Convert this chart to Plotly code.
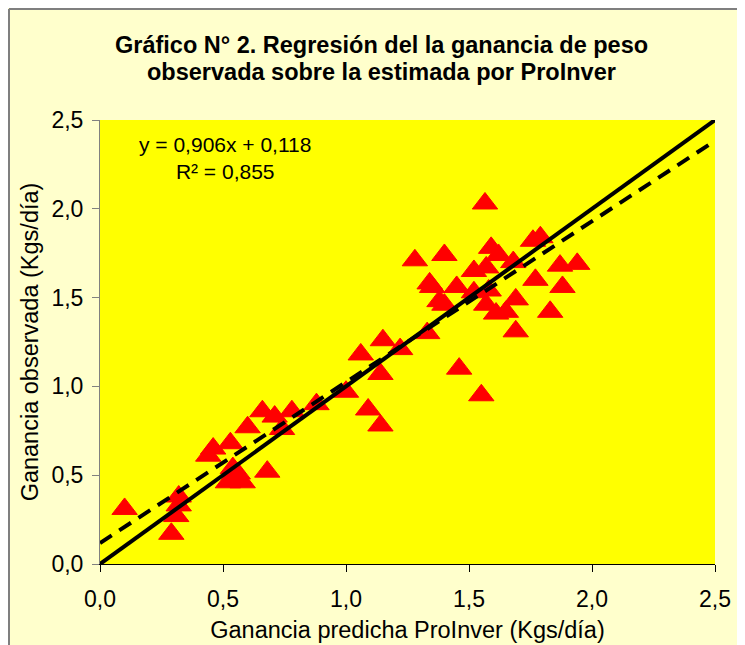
import plotly.graph_objects as go

# Predicted (x) and observed (y) weight gain, kg/day
pred = [0.10, 0.29, 0.31, 0.32, 0.32, 0.44, 0.46, 0.53, 0.52, 0.55, 0.58, 0.56, 0.54,
        0.68, 0.60, 0.66, 0.71, 0.74, 0.78, 0.88, 1.00, 1.06, 1.09, 1.14, 1.14, 1.15,
        1.22, 1.28, 1.33, 1.34, 1.35, 1.38, 1.40, 1.40, 1.45, 1.46, 1.52, 1.52, 1.55,
        1.565, 1.57, 1.57, 1.58, 1.59, 1.61, 1.62, 1.65, 1.68, 1.69, 1.69, 1.76, 1.77,
        1.79, 1.83, 1.87, 1.88, 1.94]
obs = [0.31, 0.17, 0.27, 0.33, 0.38, 0.61, 0.65, 0.68, 0.46, 0.47, 0.46, 0.51, 0.54,
       0.52, 0.77, 0.86, 0.83, 0.76, 0.86, 0.90, 0.97, 1.18, 0.87, 0.78, 1.07, 1.26,
       1.21, 1.71, 1.30, 1.58, 1.56, 1.48, 1.46, 1.74, 1.56, 1.10, 1.65, 1.53, 0.95,
       2.03, 1.46, 1.67, 1.54, 1.78, 1.41, 1.74, 1.42, 1.70, 1.49, 1.31, 1.82, 1.60,
       1.84, 1.42, 1.68, 1.56, 1.69]

line_x = [0.0, 2.5]
slope = 0.906
intercept = 0.118
ticks = [0.0, 0.5, 1.0, 1.5, 2.0, 2.5]
title_lines = ["Gráfico N° 2. Regresión del la ganancia de peso",
               "observada sobre la estimada por ProInver"]

FONT = "Liberation Sans, Arial, sans-serif"

# page has an 8px body margin; figure coordinates = page - 8
OFF = 8
W, H = 737, 637
L, T = 100 - OFF, 120 - OFF
pw, ph = 615, 444
R = W - L - pw
B = H - T - ph


def fx(page_x):
    return (page_x - OFF - L) / pw


def fy(page_y):
    return (T + ph - (page_y - OFF)) / ph


fig = go.Figure()
fig.add_trace(go.Scatter(
    x=pred, y=obs, mode="markers",
    marker=dict(symbol="triangle-up", size=22, color="#FF0000",
                line=dict(color="#FF0000", width=1)),
    showlegend=False, hoverinfo="x+y"))
fig.add_trace(go.Scatter(
    x=line_x, y=line_x, mode="lines",
    line=dict(color="black", width=4), showlegend=False))
fig.add_trace(go.Scatter(
    x=line_x, y=[slope * v + intercept for v in line_x], mode="lines",
    line=dict(color="black", width=4, dash="14px,9px"), showlegend=False))

fig.add_annotation(
    x=0.51, y=2.285, xref="x", yref="y",
    text="y = 0,906x + 0,118<br>R² = 0,855", showarrow=False,
    align="center", font=dict(family=FONT, size=21, color="black"))

for txt, py in zip(title_lines, [45, 72]):
    fig.add_annotation(
        x=fx(381), y=fy(py), xref="paper", yref="paper", xanchor="center", yanchor="middle",
        text="<b>" + txt + "</b>", showarrow=False,
        font=dict(family=FONT, size=23.5, color="black"))

shapes = [
    dict(type="line", xref="paper", yref="paper", x0=fx(9), x1=fx(9), y0=fy(9), y1=fy(700),
         line=dict(color="#7f7f7f", width=2)),
    dict(type="line", xref="paper", yref="paper", x0=fx(9), x1=fx(780), y0=fy(9), y1=fy(9),
         line=dict(color="#7f7f7f", width=2)),
]

fig.update_layout(
    width=W, height=H,
    margin=dict(l=L, r=R, t=T, b=B, pad=0),
    paper_bgcolor="#FFFFCC", plot_bgcolor="#FFFF00",
    separators=",.",
    font=dict(family=FONT, color="black"),
    shapes=shapes,
    xaxis=dict(range=[0, 2.5], tickvals=ticks, tickformat=".1f", showgrid=False, zeroline=False,
               automargin=False,
               showline=True, linecolor="black", linewidth=1, ticks="outside", ticklen=7,
               tickcolor="black", tickfont=dict(family=FONT, size=23), ticklabelstandoff=7,
               title=dict(text="Ganancia predicha ProInver (Kgs/día)", font=dict(family=FONT, size=23.5),
                          standoff=10)),
    yaxis=dict(range=[0, 2.5], tickvals=ticks, tickformat=".1f", showgrid=False, zeroline=False,
               automargin=False,
               showline=True, linecolor="#808080", linewidth=1, ticks="outside", ticklen=7,
               tickcolor="#808080", tickfont=dict(family=FONT, size=23), ticklabelstandoff=4,
               title=dict(text="Ganancia observada (Kgs/día)", font=dict(family=FONT, size=23.5),
                          standoff=6)),
)

fig.write_html("out.html")
